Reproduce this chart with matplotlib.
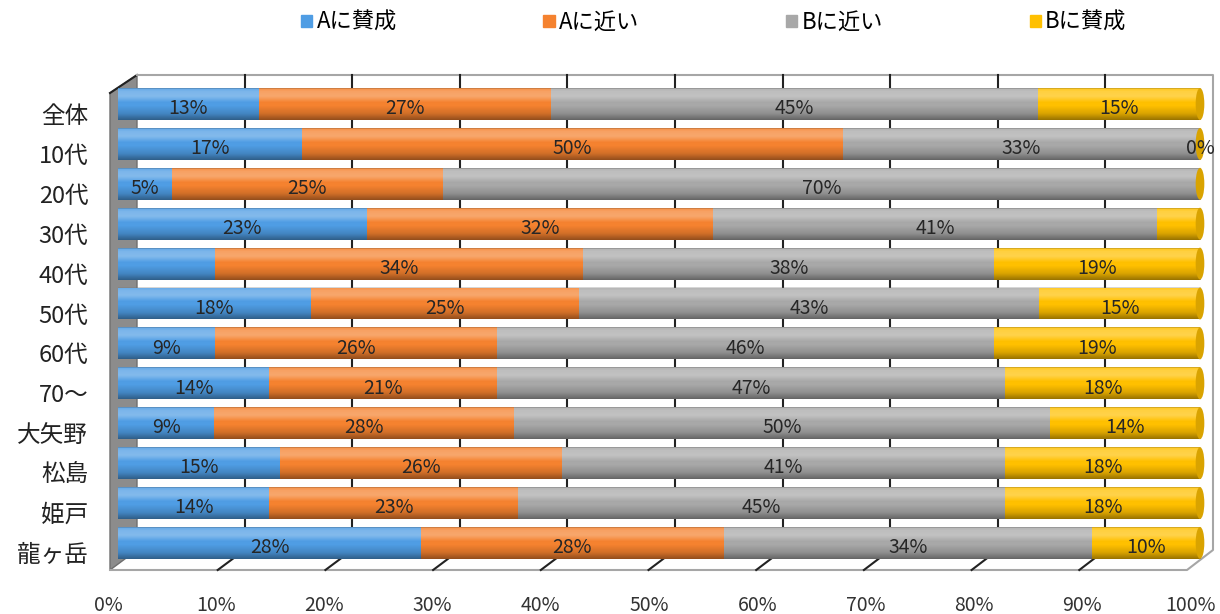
import numpy as np
import matplotlib.pyplot as plt
from matplotlib.patches import Patch, Polygon, Ellipse
from matplotlib.transforms import ScaledTranslation

plt.rcParams['font.family'] = ['Noto Sans CJK JP', 'DejaVu Sans']

groups = ['全体', '10代', '20代', '30代', '40代', '50代', '60代', '70〜', '大矢野', '松島', '姫戸', '龍ヶ岳']
series = ['Aに賛成', 'Aに近い', 'Bに近い', 'Bに賛成']
a_agree = [13, 17, 5, 23, 9, 18, 9, 14, 9, 15, 14, 28]
a_near = [27, 50, 25, 32, 34, 25, 26, 21, 28, 26, 23, 28]
b_near = [45, 33, 70, 41, 38, 43, 46, 47, 50, 41, 45, 34]
b_agree = [15, 0, 0, 4, 19, 15, 19, 18, 14, 18, 18, 10]
hidden = [(2, 3), (3, 3), (4, 0)]   # (row, series) labels not shown
colors = ['#4f9de4', '#f5822f', '#a8a8a8', '#ffc000']

vals = np.array([a_agree, a_near, b_near, b_agree], dtype=float)
pct = vals / vals.sum(axis=0) * 100      # 100% stacked
y = np.arange(len(groups))

fig = plt.figure(figsize=(12.2, 6.14), dpi=100)
ax = fig.add_axes([105/1220, 1-578/614, (1218-105)/1220, (578-68)/614])

X = lambda px: (px - 118) / 10.82   # pixel -> data helpers for the 3d frame
Y = lambda py: (py - 104) / 39.9

# left wall, back wall lines and floor
ax.add_patch(Polygon([(X(110), Y(93)), (X(137), Y(75)), (X(137), Y(550)), (X(110), Y(570))],
                     closed=True, fc='#8c8c8c', ec='#6e6e6e', lw=1, zorder=0))
ax.plot([X(110), X(137)], [Y(93), Y(75)], color='#222222', lw=1.5, zorder=0)
ax.plot([X(137), X(1213), X(1213), X(1187), X(110)], [Y(75), Y(75), Y(550), Y(570), Y(570)],
        color='#a6a6a6', lw=1.5, zorder=0)
for v in range(10, 100, 10):
    xb = X(137) + v * (X(1213) - X(137)) / 100
    xf = X(110) + v * (X(1187) - X(110)) / 100
    ax.plot([xb, xb], [Y(75), Y(550)], color='#222222', lw=1.5, zorder=0)
    ax.plot([xf, xb], [Y(570), Y(550)], color='#222222', lw=1.5, zorder=0)

h = 0.8
left = np.zeros(len(groups))
for i in range(4):
    ax.barh(y, pct[i], left=left, height=h, color=colors[i], zorder=2)
    for r in range(len(groups)):
        if (r, i) in hidden:
            continue
        ax.text(left[r] + pct[i][r] / 2, r + 0.12, f'{vals[i][r]:.0f}%',
                ha='center', va='center', fontsize=14, color='#262626', zorder=5)
    left += pct[i]

# cylinder shading and end caps
t = np.linspace(0, 1, 60)
a = np.interp(t, [0, 0.06, 0.25, 0.55, 0.8, 1], [0.35, 0.0, 0.0, 0.0, 0.15, 0.4])
w = np.interp(t, [0, 0.08, 0.25, 0.45, 1], [0.0, 0.25, 0.3, 0.0, 0.0])
shade = np.zeros((60, 1, 4))
shade[:, 0, :3] = np.where(w[:, None] > 0, 1.0, 0.0)
shade[:, 0, 3] = np.maximum(a, w)
for r in range(len(groups)):
    ax.imshow(shade, extent=(0, left[r], r + h/2, r - h/2), aspect='auto', zorder=3, interpolation='bilinear')
    ax.add_patch(Ellipse((left[r], r), 0.8, h, fc='#d9a300', ec='none', zorder=4))

ax.set_xlim(X(105), X(1218))
ax.set_ylim(Y(578), Y(68))
for s in ax.spines.values():
    s.set_visible(False)

ax.set_xticks(range(0, 101, 10))
ax.set_xticklabels([f'{v}%' for v in range(0, 101, 10)], fontsize=14, color='#333333')
ax.set_yticks(y)
ax.set_yticklabels(groups, fontsize=17, color='#222222')
ax.tick_params(length=0)
ax.tick_params(axis='x', pad=12)
ax.tick_params(axis='y', pad=12)
for lbl in ax.get_xticklabels():
    lbl.set_transform(lbl.get_transform() + ScaledTranslation(-0.1, 0, fig.dpi_scale_trans))
for lbl in ax.get_yticklabels():
    lbl.set_transform(lbl.get_transform() + ScaledTranslation(0, -0.1, fig.dpi_scale_trans))

handles = [Patch(color=c) for c in colors]
fig.legend(handles, series, loc='upper center', bbox_to_anchor=(0.585, 1.015), ncol=4, frameon=False,
           fontsize=16, handlelength=0.5, handleheight=0.5, handletextpad=0.2, columnspacing=6.6)

fig.savefig('out.png', dpi=100)
